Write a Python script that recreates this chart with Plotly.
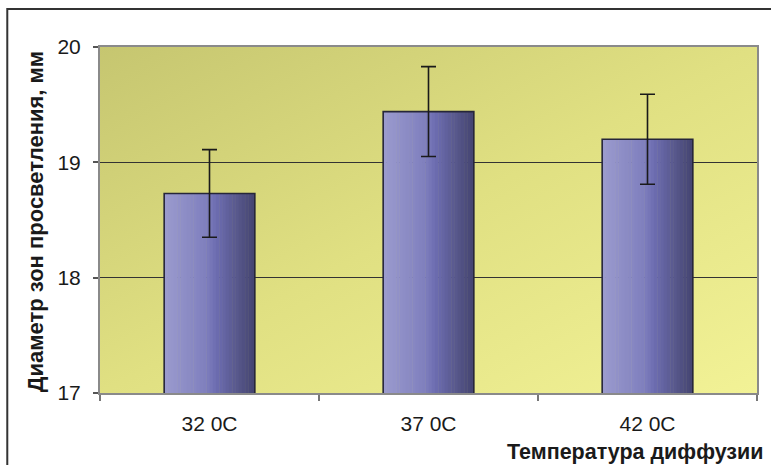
import base64
import plotly.graph_objects as go

# ---- data ----
categories = ["32 0C", "37 0C", "42 0C"]
values = [18.73, 19.44, 19.20]
errors = [0.38, 0.39, 0.39]
y_ticks = [17, 18, 19, 20]
y_title = "Диаметр зон просветления, мм"
x_title = "Температура диффузии"

# ---- style ----
W, H = 771, 465
ML, MR, MT, MB = 100, 12, 47, 72
BAR_W = 0.414
N_STRIPES = 28
FONT = "Liberation Sans, Arial, sans-serif"


def bar_color(t):
    stops = [(0.0, (155, 155, 206)), (0.45, (128, 128, 190)),
             (0.58, (108, 108, 176)), (0.8, (88, 88, 140)), (1.0, (68, 68, 112))]
    for (t0, c0), (t1, c1) in zip(stops[:-1], stops[1:]):
        if t <= t1:
            f = (t - t0) / (t1 - t0)
            c = [round(a + (b - a) * f) for a, b in zip(c0, c1)]
            return f"rgb({c[0]},{c[1]},{c[2]})"
    return "rgb(68,68,112)"


fig = go.Figure()

step = BAR_W / N_STRIPES
for i in range(N_STRIPES):
    w = step * 1.15 if i < N_STRIPES - 1 else step
    fig.add_trace(go.Bar(
        x=categories, y=values,
        width=[w] * len(categories),
        offset=[-BAR_W / 2 + i * step] * len(categories),
        marker=dict(color=bar_color((i + 0.5) / N_STRIPES), line=dict(width=0)),
        hoverinfo="skip", showlegend=False,
    ))

fig.add_trace(go.Bar(
    x=categories, y=values,
    width=[BAR_W] * len(categories),
    offset=[-BAR_W / 2] * len(categories),
    marker=dict(color="rgba(0,0,0,0)", line=dict(color="#26263a", width=1.6)),
    error_y=dict(type="data", array=errors, visible=True,
                 color="#1a1a1a", thickness=1.6, width=7.5),
    showlegend=False,
))

svg = ('<svg xmlns="http://www.w3.org/2000/svg" width="100" height="100" '
       'preserveAspectRatio="none" viewBox="0 0 100 100">'
       '<defs><linearGradient id="g" x1="0" y1="0" x2="1" y2="1">'
       '<stop offset="0" stop-color="rgb(198,198,112)"/>'
       '<stop offset="0.5" stop-color="rgb(224,224,130)"/>'
       '<stop offset="1" stop-color="rgb(242,242,150)"/>'
       '</linearGradient></defs>'
       '<rect width="100" height="100" fill="url(#g)"/></svg>')
svg_uri = "data:image/svg+xml;base64," + base64.b64encode(svg.encode()).decode()

pw = W - ML - MR
ph = H - MT - MB

fig.update_layout(
    width=W, height=H,
    margin=dict(l=ML, r=MR, t=MT, b=MB),
    paper_bgcolor="white",
    plot_bgcolor="rgb(225,225,132)",
    barmode="overlay",
    font=dict(family=FONT, size=21, color="#1a1a1a"),
    images=[dict(source=svg_uri, xref="paper", yref="paper", x=0, y=1,
                 sizex=1, sizey=1, sizing="stretch", layer="below")],
    shapes=[dict(type="rect", xref="paper", yref="paper",
                 x0=(7 - ML) / pw, x1=1 + (MR + 20) / pw,
                 y0=-(MB + 20) / ph, y1=1 + (MT - 9) / ph,
                 line=dict(color="#333333", width=2), fillcolor="rgba(0,0,0,0)",
                 layer="below")],
    annotations=[
        dict(text=f"<b>{y_title}</b>", xref="paper", yref="paper",
             x=(35 - ML) / pw, y=1 - (222 - MT) / ph, textangle=-90,
             showarrow=False, xanchor="center", yanchor="middle",
             font=dict(family=FONT, size=22, color="#1a1a1a")),
        dict(text=f"<b>{x_title}</b>", xref="paper", yref="paper",
             x=(767 - ML) / pw, y=-(452 - MT - ph) / ph, showarrow=False,
             xanchor="right", yanchor="middle",
             font=dict(family=FONT, size=21.5, color="#1a1a1a")),
    ],
)

fig.update_xaxes(
    type="category", showgrid=False, zeroline=False,
    showline=True, linecolor="#8a8a8a", linewidth=2, mirror=True,
    ticks="outside", ticklen=6, tickcolor="#777777", tickwidth=1.5,
    tickson="boundaries", ticklabelstandoff=11,
    tickfont=dict(family=FONT, size=21, color="#1a1a1a"),
    fixedrange=True,
)
fig.update_yaxes(
    range=[17, 20], tickvals=y_ticks, ticktext=[str(v) for v in y_ticks],
    showgrid=True, gridcolor="#333333", gridwidth=1, zeroline=False,
    showline=True, linecolor="#8a8a8a", linewidth=2, mirror=True,
    ticks="outside", ticklen=5, tickcolor="#555555", tickwidth=1.5,
    ticklabelstandoff=8,
    tickfont=dict(family=FONT, size=21, color="#1a1a1a"),
    fixedrange=True,
)

fig.write_html("out.html", config={"displayModeBar": False})

# remove the browser's default page margin so the figure sits at (0, 0)
with open("out.html", "r", encoding="utf-8") as fh:
    html = fh.read()
html = html.replace("<head>", "<head><style>html,body{margin:0;padding:0;overflow:hidden;}</style>", 1)
with open("out.html", "w", encoding="utf-8") as fh:
    fh.write(html)
